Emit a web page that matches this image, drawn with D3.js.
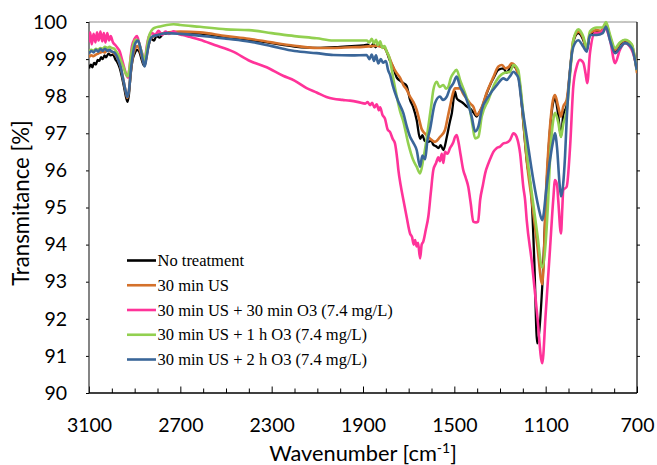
<!DOCTYPE html>
<html>
<head>
<meta charset="utf-8">
<script src="https://cdn.jsdelivr.net/npm/d3@7/dist/d3.min.js"></script>
<style>
body{margin:0;background:#fff;}
svg{display:block;}
</style>
</head>
<body>
<div id="chart"></div>
<script>
let chart_width = 657;
let chart_height = 465;

let series_names = ['No treatment', '30 min US', '30 min US + 30 min O3 (7.4 mg/L)',
    '30 min US + 1 h O3 (7.4 mg/L)', '30 min US + 2 h O3 (7.4 mg/L)'];
let series_colors = ['#000000', '#D4712B', '#FF3399', '#92D050', '#3A6699'];
let x_ticks = [3100, 2700, 2300, 1900, 1500, 1100, 700];
let y_ticks = [90, 91, 92, 93, 94, 95, 96, 97, 98, 99, 100];

// [wavenumber, transmittance]
let no_treatment = [[3100,98.75],[3092,98.85],[3085,98.78],[3078,98.9],[3070,98.85],[3062,98.98],[3055,98.95],[3047,99.05],[3040,99.0],[3032,99.1],[3025,99.05],[3015,99.15],[3005,99.1],[2995,99.12],[2985,99.0],[2975,98.9],[2965,98.75],[2955,98.5],[2945,98.2],[2937,97.95],[2931,97.85],[2925,98.05],[2918,98.55],[2910,98.95],[2900,99.15],[2890,99.25],[2880,99.2],[2870,99.0],[2862,98.85],[2856,98.82],[2848,99.1],[2838,99.4],[2828,99.55],[2815,99.5],[2805,99.62],[2790,99.58],[2775,99.68],[2750,99.7],[2700,99.72],[2600,99.68],[2500,99.6],[2400,99.52],[2300,99.43],[2200,99.34],[2100,99.3],[2000,99.33],[1950,99.35],[1900,99.37],[1880,99.39],[1865,99.33],[1855,99.41],[1845,99.32],[1835,99.4],[1820,99.35],[1805,99.3],[1796,99.2],[1785,99.0],[1769,98.8],[1752,98.5],[1738,98.42],[1723,98.35],[1709,98.28],[1694,97.9],[1680,97.7],[1665,97.36],[1650,96.85],[1640,96.95],[1630,96.8],[1614,96.77],[1600,96.8],[1593,96.7],[1580,96.65],[1570,96.6],[1560,96.68],[1548,96.55],[1533,96.9],[1520,97.3],[1511,97.54],[1497,98.12],[1490,97.95],[1483,97.9],[1470,97.85],[1461,97.81],[1445,97.72],[1431,97.67],[1415,97.55],[1402,97.45],[1392,97.55],[1380,97.68],[1358,98.08],[1340,98.35],[1329,98.48],[1307,98.71],[1285,98.75],[1271,98.63],[1260,98.72],[1249,98.84],[1238,98.8],[1227,98.71],[1212,98.26],[1198,97.3],[1183,96.28],[1161,95.2],[1150,93.6],[1137,91.34],[1115,92.87],[1096,95.6],[1081,97.09],[1068,97.8],[1059,97.94],[1045,97.49],[1033,96.91],[1023,97.49],[1008,97.76],[993,98.71],[979,99.46],[957,99.7],[935,99.51],[920,99.25],[906,99.65],[876,99.73],[858,99.72],[836,99.95],[818,99.57],[796,99.19],[775,99.41],[753,99.49],[723,99.33],[701,98.71]];

let us_30 = [[3100,99.05],[3090,99.1],[3080,99.08],[3070,99.12],[3060,99.15],[3050,99.18],[3040,99.2],[3030,99.18],[3020,99.25],[3010,99.22],[3000,99.2],[2990,99.15],[2980,99.08],[2970,98.95],[2960,98.75],[2950,98.45],[2940,98.15],[2932,97.95],[2925,98.15],[2918,98.6],[2910,99.0],[2900,99.25],[2888,99.35],[2878,99.25],[2868,99.05],[2858,98.85],[2850,99.0],[2840,99.35],[2830,99.55],[2815,99.62],[2800,99.66],[2750,99.72],[2700,99.74],[2614,99.72],[2500,99.62],[2400,99.55],[2300,99.45],[2200,99.36],[2100,99.3],[2030,99.3],[1950,99.32],[1900,99.33],[1860,99.35],[1840,99.36],[1820,99.33],[1805,99.3],[1796,99.2],[1782,99.0],[1769,98.8],[1752,98.62],[1738,98.5],[1723,98.3],[1709,98.18],[1694,97.99],[1680,97.85],[1665,97.63],[1655,97.4],[1644,97.13],[1630,97.0],[1607,96.86],[1585,96.77],[1563,96.9],[1541,97.09],[1530,97.4],[1519,97.72],[1505,98.1],[1497,98.21],[1475,98.21],[1460,98.05],[1446,97.94],[1430,97.8],[1417,97.72],[1402,97.49],[1392,97.55],[1380,97.7],[1358,98.1],[1330,98.5],[1307,98.8],[1292,98.84],[1275,98.75],[1260,98.8],[1249,98.89],[1238,98.85],[1227,98.72],[1212,98.26],[1198,97.36],[1183,96.28],[1161,95.2],[1137,94.0],[1115,92.93],[1096,95.74],[1081,97.18],[1068,97.9],[1059,98.03],[1045,97.72],[1033,97.45],[1023,97.72],[1008,97.9],[993,98.71],[979,99.51],[957,99.74],[935,99.56],[920,99.25],[906,99.7],[876,99.78],[858,99.76],[836,99.96],[818,99.6],[796,99.25],[775,99.43],[753,99.51],[723,99.38],[700,98.62]];

let us_30_o3_30 = [[3100,99.45],[3095,99.72],[3088,99.4],[3080,99.68],[3072,99.45],[3065,99.72],[3058,99.5],[3050,99.74],[3042,99.48],[3035,99.7],[3028,99.45],[3020,99.7],[3012,99.5],[3005,99.62],[2995,99.45],[2985,99.38],[2975,99.3],[2965,99.2],[2955,98.98],[2945,98.75],[2935,98.55],[2929,98.5],[2922,98.8],[2912,99.35],[2900,99.55],[2890,99.62],[2880,99.42],[2870,99.2],[2860,99.02],[2855,98.97],[2848,99.3],[2838,99.6],[2825,99.7],[2810,99.66],[2795,99.76],[2780,99.65],[2765,99.74],[2750,99.68],[2730,99.75],[2710,99.68],[2690,99.65],[2660,99.6],[2614,99.52],[2550,99.38],[2469,99.2],[2395,98.95],[2322,98.78],[2250,98.55],[2200,98.42],[2147,98.22],[2103,98.1],[2060,97.98],[2030,97.93],[1990,97.9],[1957,97.88],[1920,97.84],[1890,97.8],[1880,97.84],[1869,97.76],[1860,97.82],[1850,97.7],[1840,97.78],[1830,97.62],[1825,97.7],[1815,97.5],[1804,97.4],[1792,97.1],[1782,97.04],[1770,96.85],[1760,96.73],[1750,96.3],[1745,96.01],[1735,95.6],[1723,95.2],[1709,94.75],[1694,94.3],[1685,94.2],[1678,94.0],[1672,94.12],[1665,93.95],[1659,94.05],[1650,93.63],[1643,94.0],[1636,94.08],[1625,94.4],[1614,94.75],[1603,95.4],[1592,96.01],[1580,96.2],[1570,96.35],[1563,96.25],[1555,96.45],[1548,96.2],[1541,96.5],[1530,96.45],[1519,96.6],[1505,96.75],[1497,96.9],[1490,96.95],[1483,96.8],[1472,96.4],[1461,96.01],[1450,95.8],[1439,95.56],[1428,95.1],[1417,94.62],[1405,94.6],[1396,94.62],[1387,95.2],[1375,95.6],[1365,95.92],[1350,96.2],[1340,96.35],[1329,96.5],[1315,96.6],[1300,96.64],[1285,96.73],[1271,96.75],[1256,96.82],[1241,97.0],[1235,96.98],[1227,96.9],[1212,96.46],[1198,95.56],[1190,95.2],[1183,94.66],[1160,93.5],[1137,92.1],[1115,90.8],[1100,92.13],[1081,93.88],[1067,95.2],[1059,95.74],[1050,95.6],[1045,95.2],[1033,94.3],[1027,95.0],[1023,95.47],[1008,95.56],[993,96.64],[979,98.26],[964,98.8],[950,98.98],[935,98.9],[925,98.6],[918,98.35],[906,99.16],[884,99.7],[862,99.7],[840,99.83],[818,99.51],[796,98.89],[775,99.25],[753,99.43],[723,99.25],[701,98.8]];

let us_30_o3_1h = [[3100,99.2],[3090,99.25],[3080,99.22],[3070,99.28],[3060,99.25],[3050,99.3],[3040,99.28],[3030,99.33],[3020,99.3],[3010,99.33],[3000,99.3],[2990,99.28],[2980,99.2],[2970,99.1],[2960,98.95],[2950,98.8],[2940,98.62],[2931,98.53],[2924,98.7],[2916,99.1],[2906,99.4],[2895,99.52],[2885,99.5],[2875,99.3],[2865,99.1],[2856,98.95],[2848,99.25],[2838,99.6],[2825,99.78],[2810,99.85],[2790,99.88],[2760,99.92],[2730,99.94],[2700,99.92],[2614,99.87],[2500,99.8],[2400,99.78],[2300,99.7],[2200,99.62],[2103,99.56],[2030,99.5],[1950,99.5],[1884,99.5],[1872,99.45],[1862,99.55],[1852,99.42],[1843,99.52],[1835,99.38],[1825,99.48],[1815,99.3],[1806,99.35],[1796,99.2],[1785,99.05],[1775,98.75],[1765,98.4],[1752,97.99],[1738,97.6],[1723,97.31],[1702,96.73],[1680,96.28],[1665,96.1],[1650,95.92],[1636,96.3],[1625,96.7],[1614,97.18],[1600,97.8],[1592,98.17],[1577,98.39],[1565,98.25],[1548,98.3],[1536,98.2],[1526,98.26],[1515,98.5],[1504,98.62],[1490,98.71],[1475,98.44],[1453,98.08],[1431,97.63],[1420,97.2],[1409,96.86],[1395,96.9],[1380,97.45],[1351,97.9],[1322,98.35],[1285,98.62],[1256,98.66],[1241,98.84],[1220,98.7],[1212,98.35],[1198,97.5],[1183,96.5],[1161,95.4],[1137,94.3],[1115,93.38],[1089,95.2],[1081,96.3],[1068,97.3],[1059,97.55],[1045,97.3],[1033,96.9],[1023,97.25],[1008,97.6],[993,98.6],[979,99.5],[957,99.8],[935,99.6],[920,99.3],[906,99.75],[876,99.85],[850,99.85],[836,100.0],[818,99.65],[796,99.3],[775,99.45],[753,99.52],[723,99.4],[701,98.7]];

let us_30_o3_2h = [[3100,99.15],[3090,99.22],[3080,99.18],[3070,99.25],[3060,99.2],[3050,99.27],[3040,99.22],[3030,99.28],[3020,99.22],[3010,99.25],[3000,99.2],[2990,99.18],[2980,99.1],[2970,98.95],[2960,98.75],[2950,98.45],[2940,98.15],[2932,97.98],[2924,98.2],[2916,98.75],[2906,99.2],[2895,99.45],[2885,99.5],[2875,99.3],[2865,99.0],[2856,98.8],[2848,99.05],[2838,99.4],[2825,99.6],[2800,99.65],[2760,99.7],[2700,99.68],[2614,99.63],[2500,99.55],[2395,99.47],[2300,99.35],[2200,99.22],[2103,99.16],[2030,99.11],[1950,99.1],[1884,99.11],[1872,99.0],[1862,99.12],[1852,98.95],[1843,99.1],[1833,98.88],[1822,99.0],[1812,98.9],[1800,98.95],[1790,98.7],[1780,98.55],[1770,98.3],[1760,98.1],[1745,97.85],[1723,97.54],[1709,97.2],[1694,96.91],[1680,96.75],[1665,96.55],[1650,96.1],[1640,96.4],[1628,96.3],[1618,96.8],[1607,97.09],[1585,97.81],[1563,97.99],[1550,97.9],[1533,97.99],[1520,98.2],[1504,98.35],[1490,98.53],[1475,98.26],[1460,98.1],[1446,97.9],[1424,97.45],[1409,97.05],[1395,97.18],[1380,97.63],[1351,97.99],[1314,98.3],[1285,98.48],[1271,98.44],[1255,98.55],[1241,98.66],[1230,98.6],[1220,98.5],[1205,97.81],[1183,96.91],[1154,95.74],[1132,95.02],[1115,94.66],[1096,95.56],[1081,96.28],[1067,96.8],[1059,97.0],[1050,96.6],[1040,95.7],[1033,95.3],[1015,96.4],[1008,97.36],[993,98.71],[979,99.33],[957,99.51],[935,99.33],[920,99.2],[906,99.65],[876,99.65],[850,99.7],[836,99.87],[818,99.5],[796,99.16],[775,99.3],[753,99.43],[723,99.3],[701,98.71]];

let all_series = [no_treatment, us_30, us_30_o3_30, us_30_o3_1h, us_30_o3_2h];

let plot_left = 89, plot_right = 637, plot_top = 22, plot_bottom = 393;

let xScale = d3.scaleLinear().domain([3100, 700]).range([plot_left, plot_right]);
let yScale = d3.scaleLinear().domain([90, 100]).range([plot_bottom, plot_top]);

let svg = d3.select('#chart')
    .append('svg')
    .attr('width', chart_width)
    .attr('height', chart_height);

svg.append('defs').append('clipPath')
    .attr('id', 'plotClip')
    .append('rect')
    .attr('x', plot_left)
    .attr('y', plot_top - 2)
    .attr('width', plot_right - plot_left)
    .attr('height', plot_bottom - plot_top + 2);

// y axis (left, outward ticks)
svg.append('g')
    .attr('transform', 'translate(' + plot_left + ',0)')
    .call(d3.axisLeft(yScale).tickValues(y_ticks).tickSize(3).tickPadding(19).tickFormat(d3.format('d')));

// right mirror ticks
svg.append('g')
    .attr('transform', 'translate(' + plot_right + ',0)')
    .call(d3.axisLeft(yScale).tickValues(y_ticks.slice(1, -1)).tickSize(-3).tickFormat(''));

// x axis minor ticks
let minor = d3.range(3000, 700, -100).filter(v => x_ticks.indexOf(v) < 0);
svg.append('g')
    .attr('transform', 'translate(0,' + plot_bottom + ')')
    .call(d3.axisBottom(xScale).tickValues(minor).tickSizeInner(-4.5).tickSizeOuter(0).tickFormat(''));

// x axis major ticks with labels
svg.append('g')
    .attr('transform', 'translate(0,' + plot_bottom + ')')
    .call(d3.axisBottom(xScale).tickValues(x_ticks).tickSizeInner(-6.5).tickSizeOuter(0)
        .tickPadding(25).tickFormat(d3.format('d')));

svg.selectAll('.domain').remove();
svg.selectAll('.tick line').attr('stroke', '#000').attr('stroke-width', 1);
svg.selectAll('.tick text')
    .attr('fill', '#000')
    .style('font-family', 'Lato, "Open Sans", sans-serif')
    .style('font-size', '19.5px');

// frame
svg.append('line').attr('x1', plot_left).attr('x2', plot_right).attr('y1', plot_top).attr('y2', plot_top)
    .attr('stroke', '#8c8c8c').attr('stroke-width', 1);
svg.append('line').attr('x1', plot_left).attr('x2', plot_left).attr('y1', plot_top).attr('y2', plot_bottom)
    .attr('stroke', '#333').attr('stroke-width', 1.2);
svg.append('line').attr('x1', plot_right).attr('x2', plot_right).attr('y1', plot_top).attr('y2', plot_bottom)
    .attr('stroke', '#000').attr('stroke-width', 1.2);
svg.append('line').attr('x1', plot_left).attr('x2', plot_right).attr('y1', plot_bottom).attr('y2', plot_bottom)
    .attr('stroke', '#000').attr('stroke-width', 1.4);

// spectra
let spectrum = d3.line()
    .x(d => xScale(d[0]))
    .y(d => yScale(d[1]))
    .curve(d3.curveMonotoneX);

let lines = svg.append('g').attr('clip-path', 'url(#plotClip)');
all_series.forEach(function(data, i){
    lines.append('path')
        .datum(data)
        .attr('d', spectrum)
        .attr('fill', 'none')
        .attr('stroke', series_colors[i])
        .attr('stroke-width', i === 0 ? 2.3 : 2.6)
        .attr('stroke-linejoin', 'round');
});

// legend
let legend = svg.append('g').attr('id', 'legend');
series_names.forEach(function(name, i){
    let ly = 260.5 + i * 24.75;
    legend.append('line')
        .attr('x1', 127).attr('x2', 156)
        .attr('y1', ly).attr('y2', ly)
        .attr('stroke', series_colors[i])
        .attr('stroke-width', 2.6);
    legend.append('text')
        .text(name)
        .attr('x', 157.5)
        .attr('y', ly + 5.5)
        .attr('fill', '#000')
        .style('font-family', '"Liberation Serif", "Times New Roman", serif')
        .style('font-size', '16.5px');
});

// axis titles
let xTitle = svg.append('text')
    .attr('x', 363)
    .attr('y', 461)
    .attr('text-anchor', 'middle')
    .attr('fill', '#000')
    .style('font-family', 'Lato, "Open Sans", sans-serif')
    .style('font-size', '21.8px');
xTitle.append('tspan').text('Wavenumber [cm');
xTitle.append('tspan').text('-1').attr('dy', -8).style('font-size', '14px');
xTitle.append('tspan').text(']').attr('dy', 8);

svg.append('text')
    .text('Transmitance [%]')
    .attr('transform', 'translate(29,203) rotate(-90)')
    .attr('text-anchor', 'middle')
    .attr('fill', '#000')
    .style('font-family', 'Lato, "Open Sans", sans-serif')
    .style('font-size', '22.2px');
</script>
</body>
</html>
